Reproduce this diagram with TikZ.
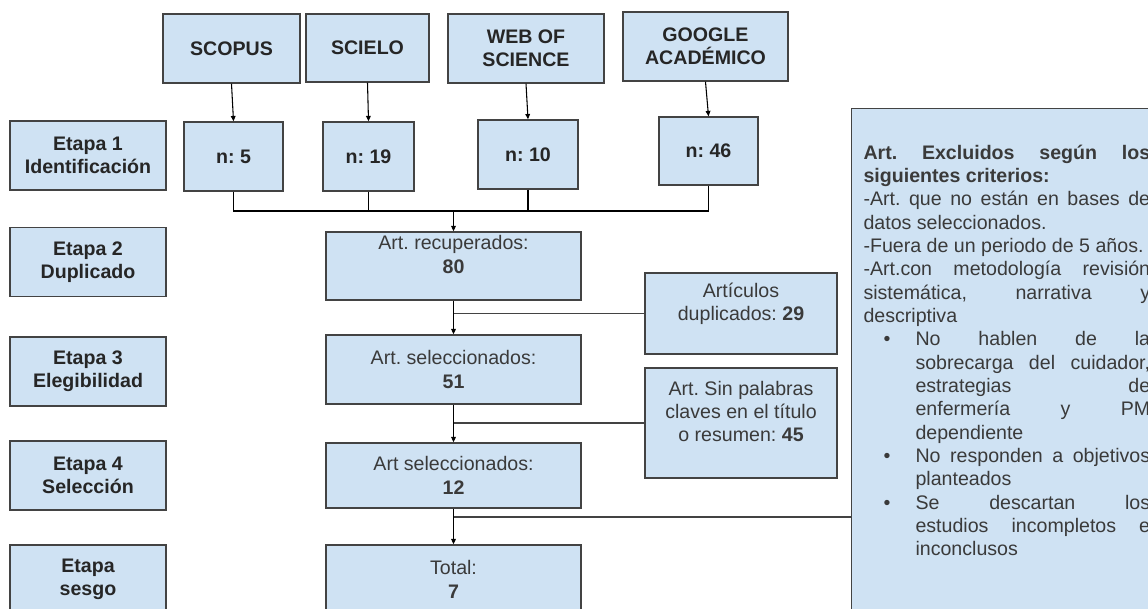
\documentclass[tikz,border=0pt]{standalone}
\usepackage{fontspec}
\setmainfont{Liberation Sans}
\usetikzlibrary{arrows.meta}
\frenchspacing

\definecolor{boxfill}{HTML}{CFE2F3}
\definecolor{boxline}{HTML}{434343}
\definecolor{textgray}{HTML}{3A3A3A}

\newlength{\critw}
\setlength{\critw}{215pt}
\newcommand{\jline}[1]{\makebox[\critw][s]{\spaceskip=0pt\xspaceskip=0pt #1}}
\newcommand{\bline}[1]{\hspace*{39pt}\makebox[\dimexpr\critw-39pt\relax][s]{\spaceskip=0pt\xspaceskip=0pt #1}}
\newcommand{\bdot}{\makebox[39pt][l]{\hspace*{15pt}\textbullet}}

\tikzset{every picture/.style={line width=0.75pt}}
\tikzset{
  boxsize/.style 2 args={minimum width=#1*0.75pt, minimum height=#2*0.75pt},
  gbox/.style={draw=boxline, fill=boxfill, line width=1.1pt, inner sep=0pt, align=center,
    text=textgray, font=\fontsize{14.7pt}{17.5pt}\selectfont},
  hdbox/.style={gbox, text=black!85, font=\fontsize{14.7pt}{17.5pt}\selectfont\bfseries},
  flow/.style={draw=black, line width=0.8pt},
  feed/.style={draw=boxline, line width=1.2pt},
  tip/.style={-{Triangle[length=4pt,width=3.5pt]}},
}

\begin{document}
\begin{tikzpicture}[x=0.75pt,y=0.75pt,yscale=-1]
\clip (0,0) rectangle (1148,608);

%Shape: Rectangle (data bases)
\node[hdbox, boxsize={137}{69}] (scopus) at (231.5,48.5) {SCOPUS};
\node[hdbox, boxsize={123}{68}] (scielo) at (367.5,48) {SCIELO};
\node[hdbox, boxsize={156}{69}] (wos) at (526,48.5) {WEB OF\\SCIENCE};
\node[hdbox, boxsize={165}{69}] (google) at (705.5,46.5) {GOOGLE\\ACADÉMICO};

%Shape: Rectangle (counts)
\node[hdbox, boxsize={99}{69}] (n5) at (233.5,156.5) {n: 5};
\node[hdbox, boxsize={91}{69}] (n19) at (368.5,156.5) {n: 19};
\node[hdbox, boxsize={100}{69}] (n10) at (528,154.5) {n: 10};
\node[hdbox, boxsize={99}{68}] (n46) at (708.5,151) {n: 46};

%Shape: Rectangle (stages)
\node[hdbox, boxsize={156}{69}] (et1) at (88,155.5) {Etapa 1\\Identificación};
\node[hdbox, boxsize={156}{69}] (et2) at (88,262) {Etapa 2\\Duplicado};
\node[hdbox, boxsize={156}{69}] (et3) at (88,371.5) {Etapa 3\\Elegibilidad};
\node[hdbox, boxsize={156}{69}] (et4) at (88,475.5) {Etapa 4\\Selección};
\node[hdbox, boxsize={156}{69}] (et5) at (88,579.5) {Etapa\\sesgo};

%Shape: Rectangle (main column)
\node[gbox, boxsize={255}{68}] (rec) at (453.5,266) {Art. recuperados:\\\textbf{80}\\\mbox{}};
\node[gbox, boxsize={255}{69}] (sel1) at (453.5,369.5) {Art. seleccionados:\\\textbf{51}};
\node[gbox, boxsize={255}{65}] (sel2) at (453.5,475.5) {Art seleccionados:\\\textbf{12}};
\node[gbox, boxsize={255}{69}] (total) at (453.5,579.5) {Total:\\\textbf{7}};

%Shape: Rectangle (removed)
\node[gbox, boxsize={192}{81}] (dup) at (741,313.5) {Artículos\\duplicados: \textbf{29}\\\mbox{}};
\node[gbox, boxsize={192}{110}] (sinpal) at (741,423) {Art. Sin palabras\\claves en el título\\o resumen: \textbf{45}\\\mbox{}};

%Shape: Rectangle (criteria)
\node[gbox, boxsize={330}{540}, anchor=north west] (excl) at (851,108) {};
\coordinate (exclin) at (851,517);

% Text Node
\node[anchor=base west, inner sep=0pt, text width=\critw, align=justify, text=textgray,
  font=\fontsize{14.7pt}{17.5pt}\selectfont] (crit) at (863,159) {%
{\bfseries\jline{Art. Excluidos según los}}\\
{\bfseries siguientes criterios:}\\
\jline{-Art. que no están en bases de}\\
datos seleccionados.\\
-Fuera de un periodo de 5 años.\\
\jline{-Art.con metodología revisión}\\
\jline{sistemática, narrativa y}\\
descriptiva\\
\bdot\makebox[\dimexpr\critw-39pt\relax][s]{\spaceskip=0pt No hablen de la}\\
\bline{sobrecarga del cuidador,}\\
\bline{estrategias de}\\
\bline{enfermería y PM}\\
\hspace*{39pt}dependiente\\
\bdot\makebox[\dimexpr\critw-39pt\relax][s]{\spaceskip=0pt No responden a objetivos}\\
\hspace*{39pt}planteados\\
\bdot\makebox[\dimexpr\critw-39pt\relax][s]{\spaceskip=0pt Se descartan los}\\
\bline{estudios incompletos e}\\
\hspace*{39pt}inconclusos};

%Straight Lines
\draw[flow, tip] (scopus.south) -- (n5.north);
\draw[flow, tip] (scielo.south) -- (n19.north);
\draw[flow, tip] (wos.south) -- (n10.north);
\draw[flow, tip] (google.south) -- (n46.north);

\coordinate (merge) at (453.5,211);
\draw[flow] (n5.south) |- (n46.south |- merge) -- (n46.south);
\draw[flow] (n19.south) -- (n19.south |- merge);
\draw[flow] (n10.south) -- (n10.south |- merge);
\draw[flow, tip] (merge) -- (rec.north);

\draw[flow, tip] (rec.south) -- (sel1.north);
\draw[flow, tip] (sel1.south) -- (sel2.north);
\draw[flow, tip] (sel2.south) -- (total.north);

\draw[feed] (dup.west) -- (dup.west -| rec.south);
\draw[feed] (sinpal.west) -- (sinpal.west -| sel1.south);
\draw[feed] (exclin) -- (exclin -| sel2.south);

\end{tikzpicture}
\end{document}
